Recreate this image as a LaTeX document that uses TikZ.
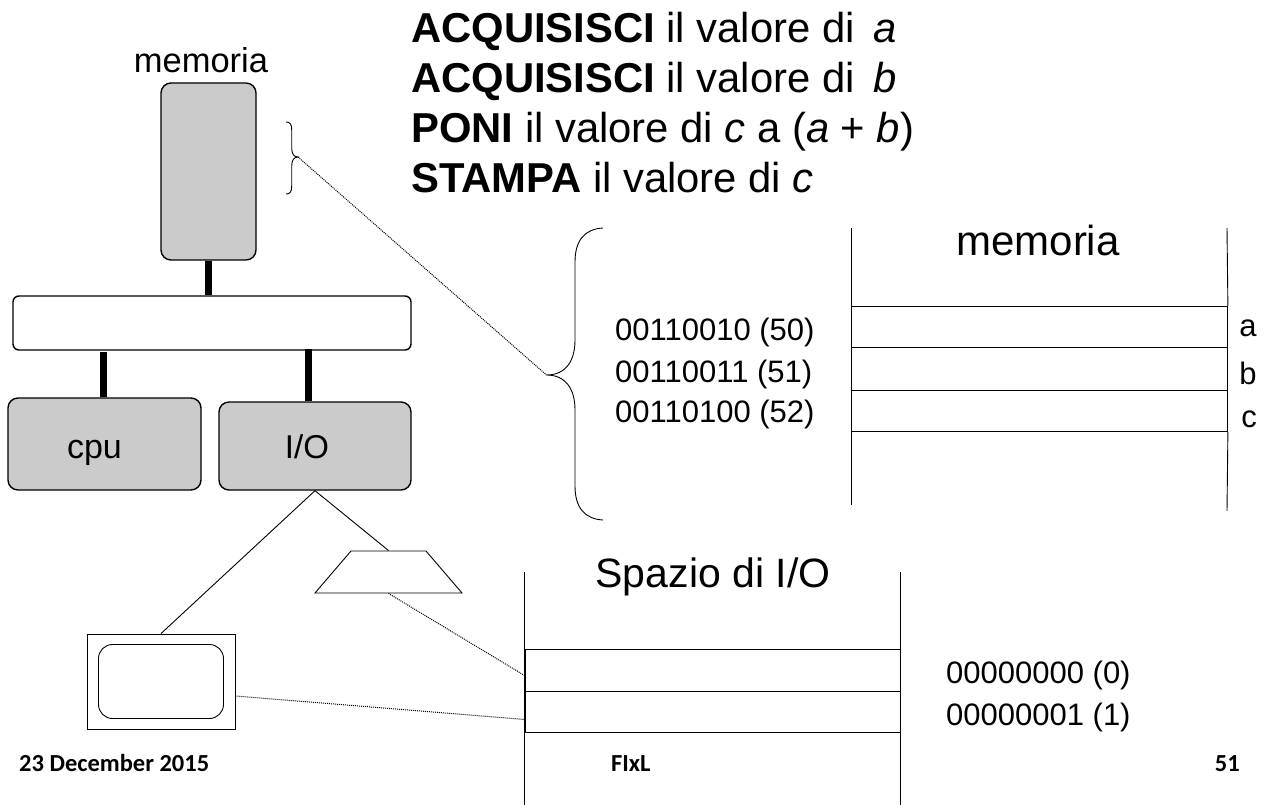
\documentclass[tikz,border=0pt]{standalone}
\usepackage{fontspec}
\setmainfont{Liberation Sans}
\newfontfamily\footfont{Carlito}
\usetikzlibrary{calc,shapes.geometric}
\definecolor{blockFill}{RGB}{203,203,203}
\newcommand{\fs}[1]{\fontsize{#1}{#1}\selectfont}

\begin{document}
\begin{tikzpicture}[
  x=1pt,y=-1pt,
  block/.style={draw=black,fill=blockFill,rounded corners=10pt,line width=1.4pt,inner sep=0pt},
  bus/.style={line width=7pt},
  wire/.style={draw=black,line width=0.9pt},
  cell/.style={draw=black,line width=0.9pt,minimum width=376pt,inner sep=0pt},
  link/.style={draw=black,line width=1pt,densely dotted},
  lbl/.style={inner sep=0pt,anchor=base,font=\fs{31}},
  addr/.style={lbl,anchor=base west},
  foot/.style={inner sep=0pt,font=\footfont\bfseries\fs{24.5}},
  code/.style={inner sep=0pt,anchor=base west,font=\fs{41.8}}
]
\useasboundingbox (0,0) rectangle (1270,805);

% ==========  Left: system blocks  ==========
\node[block,minimum width=95pt,minimum height=177pt] (mem) at (208.5,171.5) {};
\node[inner sep=0pt,font=\fs{34.5}] (memLabel) at (201,60) {memoria};
\node[block,fill=white,rounded corners=6pt,minimum width=398pt,minimum height=54pt] (sysbus) at (212,323) {};
\node[block,minimum width=193pt,minimum height=92pt] (cpu) at (104.5,444) {};
\node[lbl,font=\fs{34},anchor=base] (cpuLabel) at (94.5,458) {cpu};
\node[block,minimum width=192pt,minimum height=88pt] (io) at (315,446) {};
\node[lbl,font=\fs{33},anchor=base] (ioLabel) at (307,458) {I/O};

\draw[bus] (mem.south) -- (mem.south |- sysbus.north);
\draw[bus] ($(cpu.north)+(-1.5,0)$) -- ++(0,-45);
\draw[bus] ($(io.north)+(-7,0)$) -- ++(0,-52);

% ==========  Devices under I/O  ==========
\node[trapezium,trapezium left angle=49.4,trapezium right angle=49.4,draw=black,line width=0.9pt,
      text width=75pt,text height=42pt,text depth=0pt,inner sep=0pt] (disk) at (388.5,572) {};
\node[draw=black,line width=0.9pt,minimum width=148pt,minimum height=95pt,inner sep=0pt] (screen) at (161,681.5) {};
\node[draw=black,line width=0.9pt,rounded corners=14pt,minimum width=125pt,minimum height=74pt,inner sep=0pt] (glass) at (screen.center) {};
\draw[wire] (io.south) -- (screen.north);
\draw[wire] (io.south) -- (disk.north);

% ==========  Memory table  ==========
\coordinate (memTL) at (851,228);
\coordinate (memBL) at (851,505);
\coordinate (memTR) at (1227,228);
\coordinate (memBR) at (1227,511);
\node[cell,minimum height=41pt,anchor=north west] (rowA) at (851,306) {};
\node[cell,minimum height=43pt,anchor=north west] (rowB) at (851,347) {};
\node[cell,minimum height=41pt,anchor=north west] (rowC) at (851,390) {};
\draw[wire] (memTL) -- (memBL);
\draw[wire] (memTR) -- (rowA.north east);
\draw[wire] (rowC.south east) -- (memBR);
\node[lbl,font=\fs{42}] (memTitle) at (1038,256) {memoria};
\node[addr] (addrA) at (615,341) {00110010 (50)};
\node[addr] (addrB) at (615,382) {00110011 (51)};
\node[addr] (addrC) at (615,422) {00110100 (52)};
\node[lbl] (nameA) at (1248,336) {a};
\node[lbl] (nameB) at (1248,384) {b};
\node[lbl] (nameC) at (1249,427) {c};

% ==========  Braces  ==========
\coordinate (smallTip) at (298,157);
\coordinate (bigTip) at (546.5,375);
\draw[wire] (286,122) .. controls (290,122) and (291.7,124) .. (291.7,130)
  -- (291.7,148) .. controls (291.7,154) and (294,157) .. (smallTip)
  .. controls (294,157) and (291.7,160) .. (291.7,166)
  -- (291.7,186) .. controls (291.7,192) and (290,194) .. (286,194);
\draw[wire] (603,228) .. controls (585,229) and (575,240) .. (575,262)
  -- (575,340) .. controls (575,362) and (565,375) .. (bigTip)
  .. controls (565,375) and (575,388) .. (575,410)
  -- (575,486) .. controls (575,508) and (585,519) .. (603,520);
\draw[link] (smallTip) -- (bigTip);

% ==========  I/O table  ==========
\coordinate (ioTL) at (524.5,572);
\coordinate (ioBL) at (524.5,805);
\coordinate (ioTR) at (900,572);
\coordinate (ioBR) at (900,805);
\node[cell,minimum width=375.5pt,minimum height=42pt,anchor=north west] (ioA) at (524.5,649) {};
\node[cell,minimum width=375.5pt,minimum height=41pt,anchor=north west] (ioB) at (524.5,691) {};
\draw[wire] (ioTL) -- (ioBL);
\draw[wire] (ioTR) -- (ioBR);
\node[lbl,font=\fs{41}] (ioTitle) at (713,587) {Spazio di I/O};
\node[addr] (addrD) at (946,683) {00000000 (0)};
\node[addr] (addrE) at (946,725) {00000001 (1)};
\draw[link] (disk.south) -- ($(ioA.west)+(0,5)$);
\draw[link] ($(screen.east)+(0,14.5)$) -- ($(ioB.west)+(0,7.5)$);

% ==========  Program text  ==========
\node[code] (lineA) at (411,43) {\textbf{ACQUISISCI} il valore di \,\textit{a}};
\node[code] (lineB) at (411,93) {\textbf{ACQUISISCI} il valore di \,\textit{b}};
\node[code] (lineC) at (411,143) {\textbf{PONI} il valore di \textit{c} a (\textit{a} + \textit{b})};
\node[code] (lineD) at (411,193) {\textbf{STAMPA} il valore di \textit{c}};

% ==========  Footer  ==========
\node[foot,anchor=base west] (date) at (19,771) {23 December 2015};
\node[foot,anchor=base west] (author) at (611,771) {FIxL};
\node[foot,anchor=base east] (page) at (1240,771) {51};
\end{tikzpicture}
\end{document}
